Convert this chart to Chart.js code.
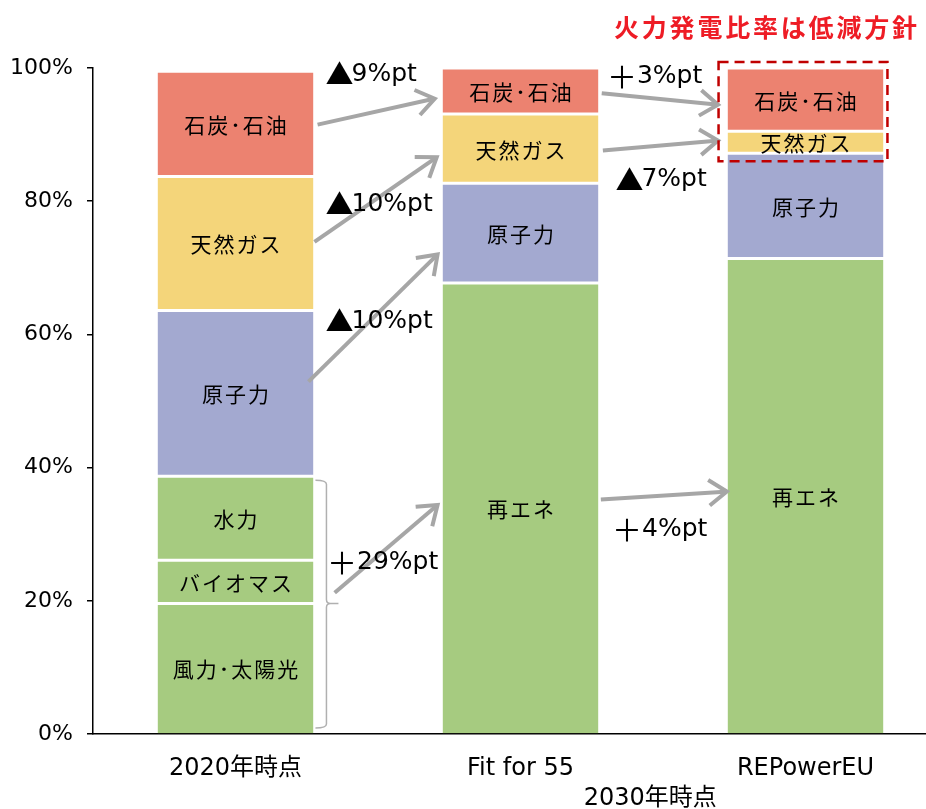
<!DOCTYPE html>
<html lang="ja">
<head>
<meta charset="utf-8">
<script src="https://cdn.jsdelivr.net/npm/chart.js@4/dist/chart.umd.min.js"></script>
<style>
html, body { margin: 0; padding: 0; background: #fff; overflow: hidden; }
#wrap { width: 926px; height: 809px; overflow: hidden; position: relative; }
canvas { display: block; }
</style>
</head>
<body>
<div id="wrap"><canvas id="c" width="960" height="809"></canvas></div>
<script>
// 電源構成（%）
const categories = ['2020年時点', 'Fit for 55', 'REPowerEU'];
const windSolar  = [19.6, null, null];
const biomass    = [6.5, null, null];
const hydro      = [12.6, null, null];
const renewables = [null, 67.7, 71.4];
const nuclear    = [24.9, 15.0, 15.8];
const gas        = [20.1, 10.4, 3.3];
const coalOil    = [15.8, 6.9, 9.5];
const yTickValues = [0, 20, 40, 60, 80, 100];

// 変化幅の注記
const changeLabels = ['▲9%pt', '▲10%pt', '▲10%pt', '＋29%pt', '＋3%pt', '▲7%pt', '＋4%pt'];
const titleText = '火力発電比率は低減方針';
const periodLabel = '2030年時点';

const LATIN = '"DejaVu Sans", "Noto Sans CJK JP", sans-serif';
const CJK = '"Noto Sans CJK JP", sans-serif';

const COLORS = {
  green: '#A6CB80', purple: '#A3A9D0', yellow: '#F4D57A', salmon: '#EC8270'
};

const series = [
  { label: '風力･太陽光', data: windSolar,  color: COLORS.green,  bottom: true },
  { label: 'バイオマス',  data: biomass,    color: COLORS.green },
  { label: '水力',        data: hydro,      color: COLORS.green },
  { label: '再エネ',      data: renewables, color: COLORS.green,  bottom: true },
  { label: '原子力',      data: nuclear,    color: COLORS.purple },
  { label: '天然ガス',    data: gas,        color: COLORS.yellow },
  { label: '石炭･石油',   data: coalOil,    color: COLORS.salmon }
];

// 矢印: [始点カテゴリ位置, 始点%, 終点カテゴリ位置, 終点%]
const arrows = [
  [0.288, 91.5, 0.699, 95.4],
  [0.277, 73.9, 0.706, 86.6],
  [0.256, 52.9, 0.709, 72.0],
  [0.348, 21.2, 0.709, 34.4],
  [1.285, 96.2, 1.693, 94.5],
  [1.289, 87.6, 1.693, 89.1],
  [1.282, 35.2, 1.724, 36.4]
];
// 注記テキストの位置: [左端カテゴリ位置, 中心%]
const changeLabelPos = [
  [0.323, 99.0], [0.323, 79.5], [0.323, 61.9], [0.337, 25.8],
  [1.319, 98.7], [1.340, 83.2], [1.337, 30.7]
];

// 記号（▲・＋）は全角幅の枠に少し大きめに描く
function drawMixed(ctx, text, x, y, size) {
  ctx.textBaseline = 'middle';
  let cx = x;
  for (const ch of text) {
    if (ch === '＋') {
      ctx.font = Math.round(size * 1.2) + 'px ' + CJK;
      ctx.textAlign = 'center';
      ctx.fillText(ch, cx + size * 0.42, y);
      cx += size * 1.02;
    } else if (ch === '▲') {
      ctx.font = Math.round(size * 1.12) + 'px ' + CJK;
      ctx.textAlign = 'center';
      ctx.fillText(ch, cx + size * 0.48, y);
      cx += size * 0.96;
    } else {
      ctx.font = size + 'px ' + LATIN;
      ctx.textAlign = 'left';
      ctx.fillText(ch, cx, y);
      cx += ctx.measureText(ch).width;
    }
  }
}

function drawArrow(ctx, x1, y1, x2, y2) {
  const a = Math.atan2(y2 - y1, x2 - x1);
  const L = 22, s = 0.62;
  ctx.save();
  ctx.strokeStyle = '#A6A6A6';
  ctx.lineWidth = 4;
  ctx.lineJoin = 'miter';
  ctx.beginPath();
  ctx.moveTo(x1, y1);
  ctx.lineTo(x2 - 2 * Math.cos(a), y2 - 2 * Math.sin(a));
  ctx.stroke();
  ctx.beginPath();
  ctx.moveTo(x2 - L * Math.cos(a - s), y2 - L * Math.sin(a - s));
  ctx.lineTo(x2, y2);
  ctx.lineTo(x2 - L * Math.cos(a + s), y2 - L * Math.sin(a + s));
  ctx.stroke();
  ctx.restore();
}

const overlay = {
  id: 'overlay',
  afterDatasetsDraw(chart) {
    const { ctx, scales: { x, y } } = chart;
    const step = x.getPixelForValue(1) - x.getPixelForValue(0);
    const px = v => x.getPixelForValue(0) + v * step;

    // 区分ラベル
    ctx.save();
    ctx.fillStyle = '#000';
    ctx.font = '21px ' + CJK;
    ctx.letterSpacing = '2px';
    ctx.textAlign = 'center';
    ctx.textBaseline = 'middle';
    chart.data.datasets.forEach((ds, i) => {
      chart.getDatasetMeta(i).data.forEach((bar, j) => {
        if (ds.data[j] == null) return;
        const p = bar.getProps(['x', 'y', 'base'], true);
        ctx.fillText(ds.label, p.x + 1, (p.y + p.base) / 2 + 1);
      });
    });
    ctx.restore();

    // 再エネ内訳の括弧
    const bar0 = chart.getDatasetMeta(0).data[0];
    const bx = bar0.x + bar0.width / 2 + 13;
    const topPct = windSolar[0] + biomass[0] + hydro[0];
    const yTop = y.getPixelForValue(topPct) + 4;
    const yMid = y.getPixelForValue(windSolar[0]);
    const yBot = y.getPixelForValue(0) - 6;
    ctx.save();
    ctx.strokeStyle = '#B0B0B0';
    ctx.lineWidth = 1.5;
    ctx.beginPath();
    ctx.moveTo(bx - 11, yTop);
    ctx.quadraticCurveTo(bx, yTop, bx, yTop + 4);
    ctx.lineTo(bx, yMid - 4);
    ctx.quadraticCurveTo(bx, yMid, bx + 4, yMid);
    ctx.lineTo(bx + 12, yMid);
    ctx.moveTo(bx + 4, yMid);
    ctx.quadraticCurveTo(bx, yMid, bx, yMid + 4);
    ctx.lineTo(bx, yBot - 4);
    ctx.quadraticCurveTo(bx, yBot, bx - 11, yBot);
    ctx.stroke();
    ctx.restore();

    // 矢印
    arrows.forEach(a => drawArrow(ctx, px(a[0]), y.getPixelForValue(a[1]), px(a[2]), y.getPixelForValue(a[3])));

    // 変化幅
    ctx.save();
    ctx.fillStyle = '#000';
    changeLabels.forEach((t, i) => {
      const p = changeLabelPos[i];
      drawMixed(ctx, t, px(p[0]), y.getPixelForValue(p[1]), 25);
    });
    ctx.restore();

    // 火力部分の破線枠
    const bar3 = chart.getDatasetMeta(6).data[2];
    const left = bar3.x - bar3.width / 2 - 9;
    const right = bar3.x + bar3.width / 2 + 4;
    const boxTop = y.getPixelForValue(100) - 6;
    const boxBot = y.getPixelForValue(renewables[2] + nuclear[2]) + 8;
    ctx.save();
    ctx.strokeStyle = '#C00000';
    ctx.lineWidth = 2.5;
    ctx.setLineDash([10, 6]);
    ctx.strokeRect(left, boxTop, right - left, boxBot - boxTop);
    ctx.restore();

    // 見出し
    ctx.save();
    ctx.fillStyle = '#EE1C25';
    ctx.font = 'bold 25px ' + CJK;
    ctx.letterSpacing = '2.8px';
    ctx.textAlign = 'left';
    ctx.textBaseline = 'middle';
    ctx.fillText(titleText, 614, 27);
    ctx.restore();

    // 期間ラベル
    ctx.save();
    ctx.fillStyle = '#000';
    ctx.font = '24px ' + LATIN;
    ctx.textAlign = 'center';
    ctx.textBaseline = 'middle';
    ctx.fillText(periodLabel, px(1.455), chart.chartArea.bottom + 65);
    ctx.restore();
  }
};

new Chart(document.getElementById('c'), {
  type: 'bar',
  data: {
    labels: categories,
    datasets: series.map(s => ({
      label: s.label,
      data: s.data,
      backgroundColor: s.color,
      borderColor: '#FFFFFF',
      borderWidth: s.bottom ? { top: 1.5, bottom: 0, left: 0, right: 0 } : { top: 1.5, bottom: 1.5, left: 0, right: 0 },
      borderSkipped: s.bottom ? 'start' : false,
      barPercentage: 0.547,
      categoryPercentage: 1.0
    }))
  },
  options: {
    responsive: false,
    animation: false,
    layout: { padding: { top: 68, right: 12, left: 0, bottom: 0 } },
    plugins: { legend: { display: false }, tooltip: { enabled: false } },
    scales: {
      x: {
        stacked: true,
        grid: { display: false, drawTicks: false },
        border: { display: true, color: '#000', width: 1.5 },
        ticks: { font: { family: LATIN, size: 24 }, color: '#000', padding: 20, maxRotation: 0, autoSkip: false },
        afterFit(s) { s.height = 75; }
      },
      y: {
        stacked: true,
        min: 0,
        max: 100,
        afterBuildTicks(s) { s.ticks = yTickValues.map(v => ({ value: v })); },
        ticks: { callback: v => v + '%', font: { family: LATIN, size: 22 }, color: '#000', padding: 14 },
        grid: { drawOnChartArea: false, drawTicks: true, tickLength: 6, color: '#000', lineWidth: 1.5 },
        border: { display: true, color: '#000', width: 1.5 },
        afterFit(s) { s.width = 93; }
      }
    }
  },
  plugins: [overlay]
});
</script>
</body>
</html>
